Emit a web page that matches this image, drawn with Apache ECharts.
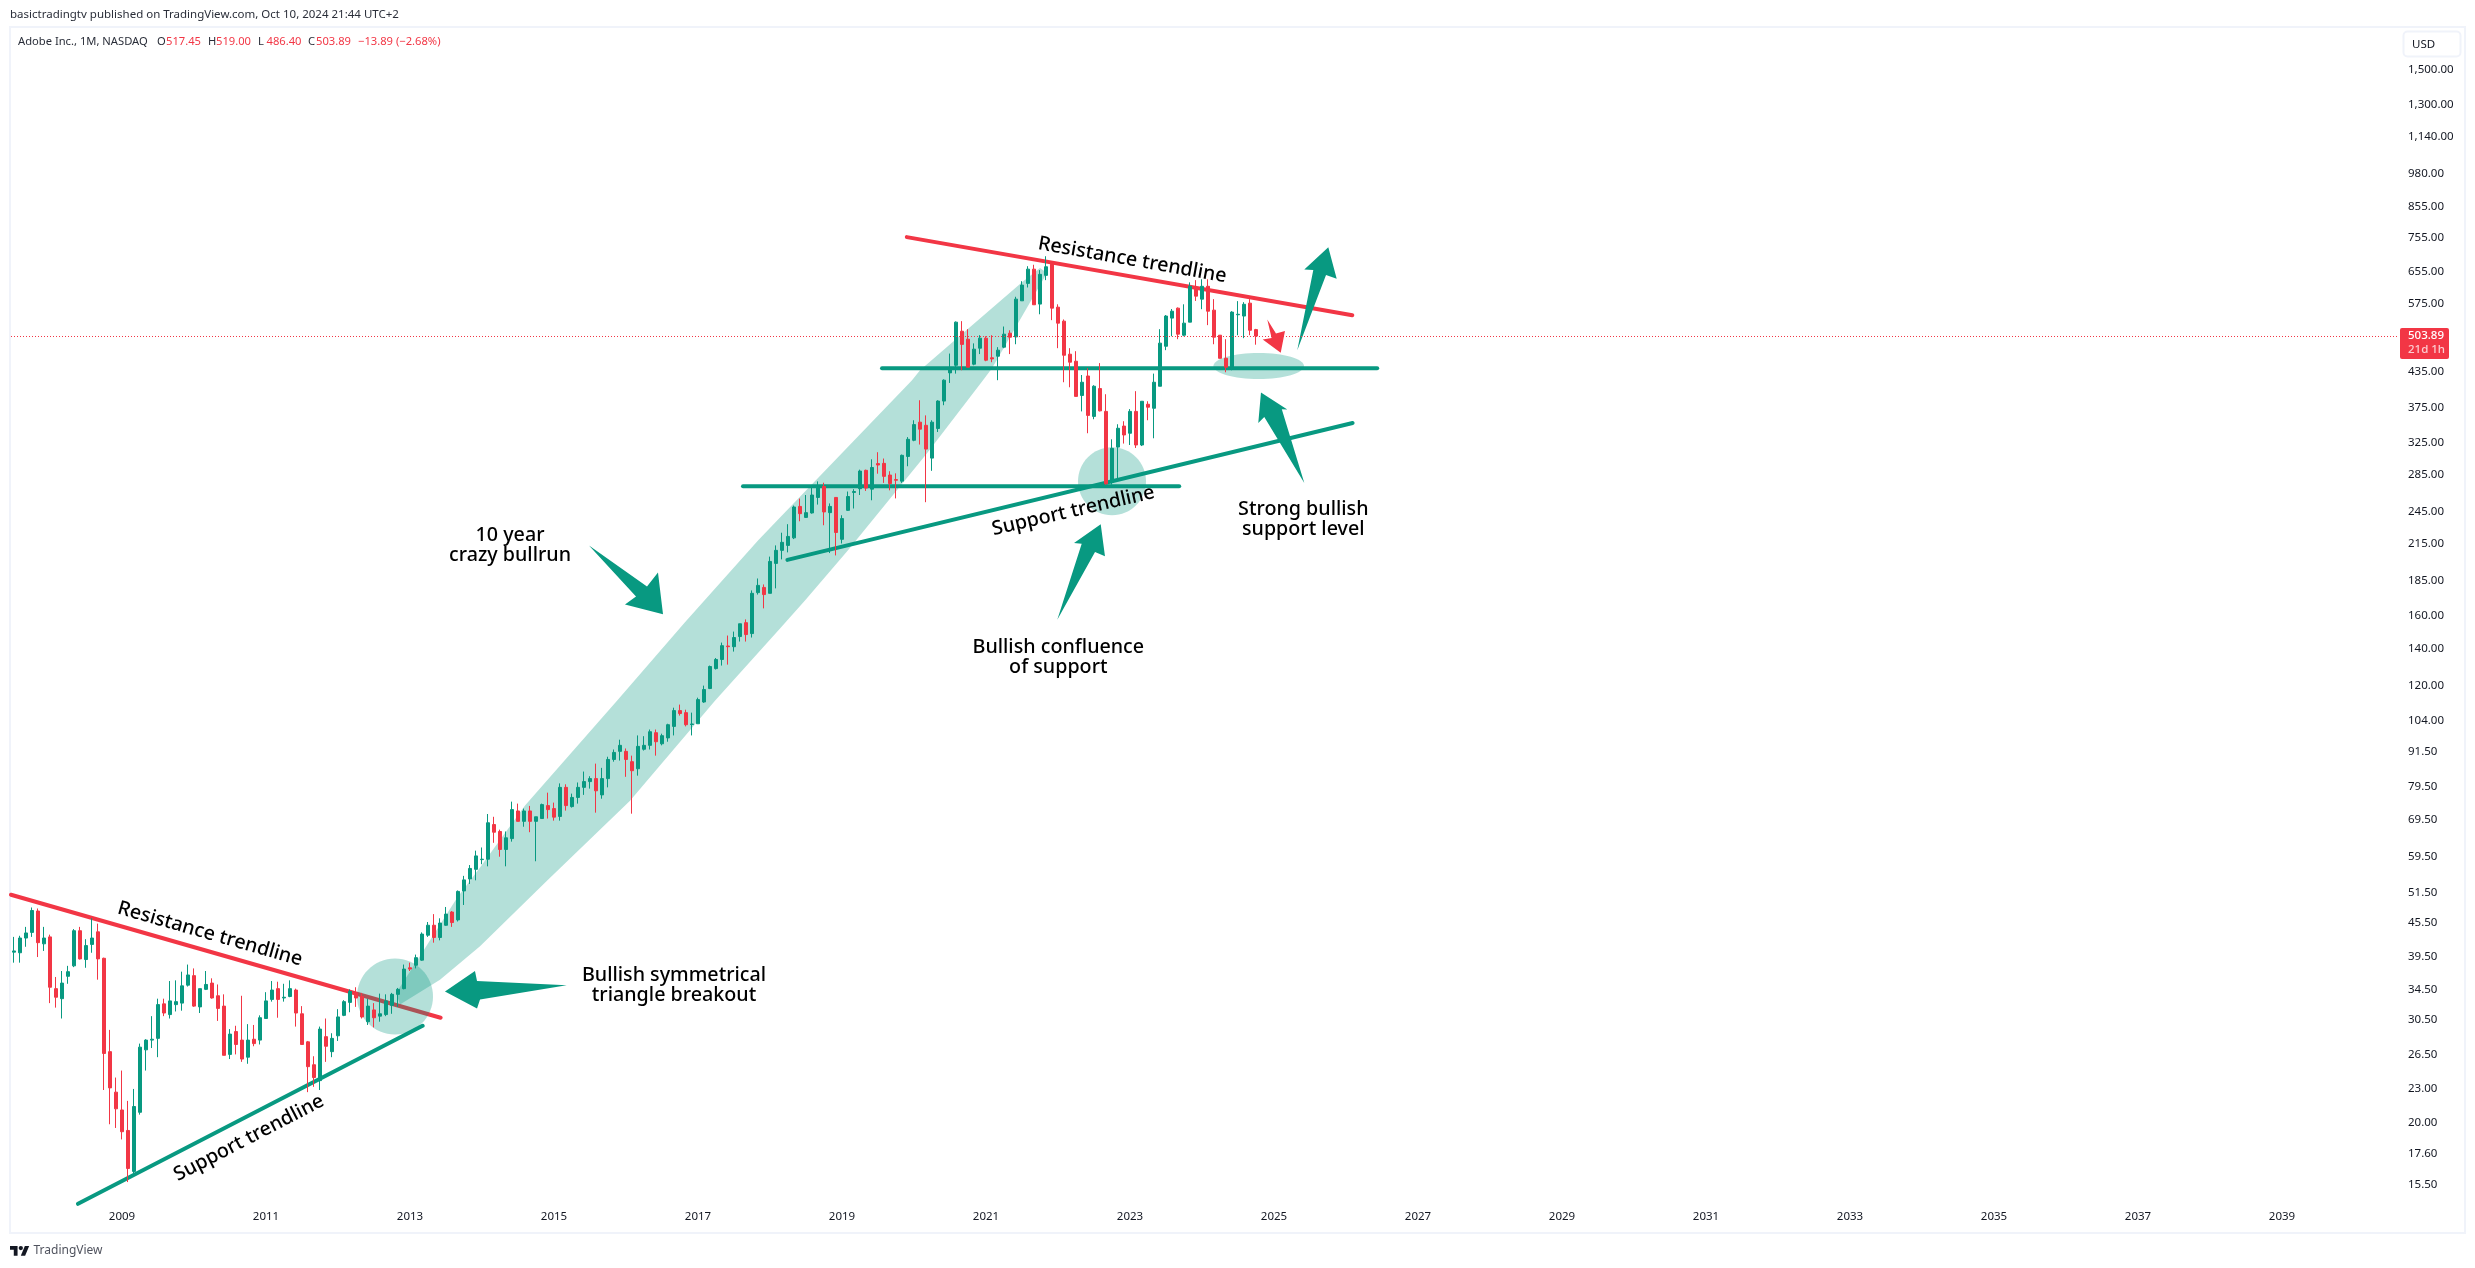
<!DOCTYPE html>
<html><head><meta charset="utf-8"><style>html,body{margin:0;padding:0;background:#fff}#c{width:2475px;height:1268px}</style>
<script src="https://cdn.jsdelivr.net/npm/echarts@6/dist/echarts.min.js"></script></head><body><div id="c"></div>
<script>
const opens=[40.3,40.2,42.7,43.7,47.7,41.7,42.9,34.7,33.3,36.5,38.1,44.0,39.1,41.6,43.8,39.3,26.8,22.7,21.1,19.4,
16.4,20.9,27.0,28.1,28.3,32.6,31.2,32.5,32.7,35.2,36.6,32.2,34.6,35.5,33.7,32.3,26.5,29.1,28.1,26.2,
28.2,28.1,30.7,33.2,34.7,33.4,33.6,34.5,31.3,27.9,25.4,23.8,28.5,26.8,28.6,31.1,32.8,34.1,33.6,30.3,
31.8,31.0,31.2,32.4,33.9,34.7,37.8,38.2,39.0,43.2,45.0,42.8,45.0,47.5,46.0,51.8,54.4,56.6,58.9,59.0,
68.0,66.1,61.4,64.2,71.9,68.9,71.9,68.9,69.7,73.5,72.6,70.3,79.2,73.2,76.0,79.2,81.1,82.1,76.8,82.1,
88.8,91.8,91.8,88.0,85.5,92.6,94.1,99.1,94.7,97.0,101.7,108.5,107.6,102.5,102.8,112.4,118.8,128.9,133.8,141.4,
141.0,147.0,155.6,148.8,176.0,179.8,175.5,198.4,209.3,213.6,220.3,250.6,239.6,244.0,260.0,272.0,244.3,260.0,219.0,246.6,
265.4,269.5,290.6,269.0,298.7,299.0,285.0,279.8,278.0,307.6,328.7,354.0,349.5,305.5,345.0,386.0,433.3,447.0,514.0,497.5,
449.0,479.5,499.6,461.0,464.0,481.5,509.9,502.2,582.3,625.4,663.0,574.5,646.3,676.8,567.3,535.7,467.8,454.5,395.0,427.8,
362.5,406.3,370.0,276.7,319.6,348.4,338.3,370.0,322.4,381.0,374.8,410.2,483.3,542.4,565.0,505.7,533.5,615.5,586.3,618.0,
560.4,505.7,460.0,443.5,549.9,547.0,576.7,517.45];
const highs=[42.9,43.1,44.7,48.4,48.2,44.7,43.3,36.4,37.3,38.1,44.3,44.7,42.5,46.3,45.3,39.4,29.3,24.1,24.8,21.9,
23.0,27.7,28.2,31.0,33.3,33.3,35.8,35.9,37.2,38.3,37.7,34.7,37.3,36.2,35.3,33.9,29.4,29.8,33.7,30.0,
29.9,31.1,34.2,35.8,35.7,35.4,35.9,34.7,32.3,28.0,26.3,29.7,30.7,28.9,31.9,33.1,34.6,34.9,34.1,33.3,
32.7,34.0,33.9,34.1,34.8,38.3,38.6,39.9,43.7,45.6,47.1,46.3,48.5,47.7,51.9,55.1,57.6,61.1,61.9,71.0,
70.2,66.6,66.1,74.7,74.1,72.6,73.4,70.2,74.1,77.5,74.4,80.5,80.2,77.2,80.8,84.5,82.9,87.3,85.8,89.8,
92.5,96.3,92.9,90.2,98.0,97.7,100.4,100.4,98.7,102.8,109.8,111.2,108.9,107.6,114.4,120.2,130.5,134.6,143.4,147.6,
150.0,154.9,157.7,177.6,186.5,182.0,204.0,213.6,225.0,233.0,251.5,258.8,262.6,271.2,277.7,276.2,253.7,260.0,241.7,266.4,
269.0,291.4,291.4,304.0,313.0,305.0,289.5,287.0,310.0,333.0,356.8,387.3,364.0,356.8,387.3,422.0,469.0,535.0,535.7,518.3,
489.0,505.7,503.6,505.7,481.5,524.0,516.0,592.0,631.0,671.0,675.0,660.4,699.0,682.0,574.0,539.4,479.5,473.6,429.5,441.7,
412.0,451.0,397.0,330.0,351.0,355.4,373.5,402.0,385.7,385.7,432.0,518.3,549.3,563.0,566.6,574.0,628.0,633.8,636.0,636.0,
586.3,505.7,497.5,558.0,581.5,579.0,586.3,519];
const lows=[38.6,38.6,41.2,42.9,39.5,40.5,32.7,32.1,30.7,35.4,37.9,39.1,37.8,40.2,36.0,22.9,19.9,19.6,18.7,15.7,
16.1,20.7,24.8,27.2,26.2,31.0,30.7,31.6,31.7,35.0,32.2,31.4,34.5,33.3,30.4,26.4,26.0,26.5,25.7,25.5,
27.4,27.6,30.7,32.9,30.8,32.9,33.5,29.7,27.6,22.7,23.2,22.9,25.7,26.2,28.0,31.0,31.5,32.2,30.7,29.9,
29.6,30.3,31.0,31.3,32.2,34.6,37.3,37.7,38.9,42.9,41.9,42.3,44.9,44.7,45.7,48.9,53.3,54.1,57.8,57.3,
63.1,59.6,57.3,63.4,68.9,67.4,65.9,58.5,69.7,69.7,69.1,69.1,72.0,72.9,74.1,76.8,78.8,71.4,75.6,79.2,
88.0,88.4,82.7,71.1,83.1,92.1,92.5,90.2,94.1,95.5,98.0,106.3,101.7,98.0,102.8,112.0,118.5,128.4,130.5,131.0,
138.2,144.0,144.0,146.4,174.6,165.0,175.5,179.1,201.7,207.6,219.2,235.8,239.0,243.3,252.5,232.0,207.0,205.0,215.3,246.0,
248.5,262.6,267.0,257.0,286.6,276.0,267.7,259.0,276.0,295.5,327.4,323.0,255.0,290.0,340.0,379.5,415.8,432.0,438.0,443.5,
447.0,468.0,454.5,452.7,420.5,479.5,468.0,487.3,582.3,615.0,572.9,551.0,633.8,537.9,479.5,417.0,408.5,393.5,370.0,338.3,
358.3,370.0,274.0,274.0,279.0,324.3,322.4,318.5,321.0,356.8,331.4,410.2,475.6,503.6,497.5,503.6,533.5,582.0,562.6,527.0,
487.3,460.0,434.4,438.0,505.7,499.6,505.7,486.4];
const closes=[40.5,42.7,43.6,47.8,41.9,42.7,34.9,33.5,35.5,37.2,44.0,39.2,41.4,42.7,39.2,26.6,23.1,21.2,19.3,16.6,
21.4,27.3,28.1,28.2,32.5,31.4,33.0,32.9,35.1,36.7,32.3,34.7,35.3,33.4,32.0,26.4,28.8,27.6,26.0,28.1,
27.7,30.8,33.0,34.5,33.2,33.5,34.7,31.4,27.6,25.2,24.1,29.4,27.4,28.3,30.9,32.9,34.3,33.4,30.9,32.3,
30.8,31.3,33.0,33.9,34.6,37.6,37.6,39.4,43.4,45.0,42.8,45.4,47.1,45.5,51.7,54.2,56.8,59.8,59.0,68.5,
65.9,61.4,64.4,72.3,68.9,71.9,68.9,70.2,73.8,72.3,70.1,79.2,73.5,76.0,79.2,81.1,82.1,78.1,82.1,88.8,
91.4,94.1,88.8,84.8,93.7,94.1,99.5,95.5,97.9,102.4,108.5,107.2,102.4,102.7,113.5,118.3,130.0,133.8,141.6,141.0,
146.4,154.9,148.2,175.5,181.3,174.6,200.0,209.3,216.3,221.6,250.0,243.3,244.3,262.6,272.0,245.0,250.6,225.2,238.4,261.0,
266.4,289.7,270.2,294.0,297.0,283.5,275.2,279.0,309.0,330.0,350.5,344.0,317.0,354.0,386.0,420.5,440.5,533.5,487.0,443.5,
477.6,499.6,456.4,458.8,475.6,507.8,501.6,586.3,621.0,663.0,572.9,649.0,669.5,565.0,531.3,465.8,452.7,393.5,417.0,364.0,
410.2,370.8,275.0,318.0,345.3,335.9,370.0,322.4,385.7,376.4,417.0,489.5,547.0,558.0,507.8,531.3,618.0,593.5,618.0,558.0,
501.6,460.0,443.5,555.9,551.0,574.0,516.0,503.89];

const startYear=2007, startMonth=7, monthCount=398;
const yearLabels=[2009,2011,2013,2015,2017,2019,2021,2023,2025,2027,2029,2031,2033,2035,2037,2039];
const priceTicks=[1500,1300,1140,980,855,755,655,575,435,375,325,285,245,215,185,160,140,120,104,91.5,79.5,69.5,59.5,51.5,45.5,39.5,34.5,30.5,26.5,23,20,17.6,15.5];
const lastPrice=503.89, countdown='21d 1h';
const legendValues={O:'517.45',H:'519.00',L:'486.40',C:'503.89',change:'\u221213.89 (\u22122.68%)'};

// drawings, all in [month index, price]
const resistanceLow=[[-0.5,51.0],[71.1,30.8]];
const supportLow=[[10.67,14.36],[68.1,29.8]];
const resistanceHigh=[[148.8,756],[223.05,549]];
const supportHigh=[[128.9,201.3],[223.1,352.8]];
const levelUpper=[[144.67,441.7],[227.2,441.7]];
const levelLower=[[121.5,272.1],[194.2,272.1]];
const bullrunBand=[[63.67,34.1],[67.17,38.9],[73.83,50.3],[77.67,57.0],[85.17,73.5],[100.5,113.0],[111.83,155.8],[124,218],[127.67,239.6],[149.67,420.5],[151,438.1],[168,628.6],[171,665.8],
[172.17,652.3],[163,441.7],[161.5,420.5],[152.17,311.7],[139,209.3],[131.83,170.4],[127.67,152],[116.83,113],[114,104.1],[102.67,75],[88.83,54],[77.67,41.3],[71,36.0],[64.33,32.5]];
const zones=[{c:[63.5,33.6],rx:38,ry:38},{c:[183,277.8],rx:34,ry:34},{c:[207.45,445.9],rx:45.3,ry:13}];
const greenArrows=[
[[71.83,34.3],[76.83,37.3],[77.17,35.8],[92.12,35.2],[77.67,33.2],[77.17,32.0]],
[[108.17,161],[107.33,191.2],[105.5,180.5],[95.83,213.6],[103.67,173.2],[101.83,167.6]],
[[181.12,232.9],[181.83,204.2],[180.17,207.8],[173.88,157.5],[177.95,215.1],[176.67,215.6]],
[[207.83,399.8],[212.22,372.8],[211.3,373.3],[215.05,275.9],[208.38,361.7],[207.38,352.9]],
[[219.05,725],[220.45,637.2],[218.67,647],[213.88,475.6],[216.55,660.4],[215.05,662.3]]];
const redArrow=[[208.88,539.4],[210.33,509],[211.83,514.7],[211.12,470.4],[208.12,496.9],[209.6,500]];
const notes=[
{t:'Resistance trendline',m:32.67,p:43.4,r:-15.9},
{t:'Support trendline',m:39.17,p:18.8,r:27.4},
{t:'Resistance trendline',m:186.38,p:688,r:-10},
{t:'Support trendline',m:176.55,p:245.9,r:13},
{t:'Bullish symmetrical\ntriangle breakout',m:110,p:35.2,r:0},
{t:'10 year\ncrazy bullrun',m:82.67,p:213.6,r:0},
{t:'Bullish confluence\nof support',m:174.05,p:135,r:0},
{t:'Strong bullish\nsupport level',m:214.88,p:237.2,r:0}];

const GREEN='#089981', RED='#F23645', BAND='rgba(8,153,129,0.3)', INK='#131722';
const FONT='"Noto Sans", sans-serif';
const categories=[];
for(let i=0;i<monthCount;i++){const t=startYear*12+startMonth-1+i;categories.push(Math.floor(t/12)+'-'+String(t%12+1).padStart(2,'0'));}
const candles=opens.map((o,i)=>[o,closes[i],lows[i],highs[i]]);
const trend=(d,color)=>({type:'line',xAxisIndex:1,yAxisIndex:0,data:d,symbol:'none',z:1,silent:true,
  lineStyle:{color:color,width:4,cap:'round'}});
const single=(renderItem,z)=>({type:'custom',xAxisIndex:1,yAxisIndex:0,z:z,silent:true,data:[[0,100]],renderItem:renderItem});
const poly=(api,pts,fill)=>({type:'polygon',shape:{points:pts.map(p=>api.coord(p))},style:{fill:fill}});

const chart=echarts.init(document.getElementById('c'),null,{width:2475,height:1268});
const txt=(x,y,t,fill,size,extra)=>({type:'text',x:x,y:y,silent:true,style:Object.assign({text:t,fill:fill,font:(size||12)+'px '+FONT,verticalAlign:'middle'},extra||{})});
const LS=0.54,LX=10,LY=1243.8;
const logoPts=a=>a.map(p=>[LX+p[0]*LS,LY+p[1]*LS]);
chart.setOption({
  animation:false,backgroundColor:'#fff',
  grid:{left:11,top:28,width:2388,height:1176,containLabel:false},
  xAxis:[{type:'category',data:categories,boundaryGap:true,axisLine:{show:false},axisTick:{show:false},splitLine:{show:false},
    axisLabel:{color:INK,fontFamily:FONT,fontSize:11.5,margin:7,hideOverlap:false,
      interval:(i,v)=>v.endsWith('-01')&&yearLabels.includes(+v.slice(0,4)),formatter:v=>v.slice(0,4)}},
    {type:'value',min:-0.5,max:397.5,show:false,splitLine:{show:false}}],
  yAxis:[{type:'log',min:14.35,max:1782,position:'right',axisLine:{show:false},axisTick:{show:false},splitLine:{show:false},minorTick:{show:false},minorSplitLine:{show:false},
    axisLabel:{customValues:priceTicks,color:INK,fontFamily:FONT,fontSize:11.5,margin:9,align:'left',
      formatter:v=>Number(v).toLocaleString('en-US',{minimumFractionDigits:2,maximumFractionDigits:2})}}],
  series:[
    trend(resistanceLow,RED),trend(supportLow,GREEN),trend(resistanceHigh,RED),trend(supportHigh,GREEN),trend(levelUpper,GREEN),trend(levelLower,GREEN),
    single((p,api)=>poly(api,bullrunBand,BAND),2),
    {type:'custom',xAxisIndex:1,yAxisIndex:0,z:2,silent:true,data:zones.map((_,i)=>[i,100]),renderItem:(p,api)=>{const z=zones[p.dataIndex],c=api.coord(z.c);
      return {type:'ellipse',shape:{cx:c[0],cy:c[1],rx:z.rx,ry:z.ry},style:{fill:BAND}};}},
    {type:'candlestick',name:'ADBE',xAxisIndex:0,yAxisIndex:0,data:candles,barWidth:4,z:3,silent:true,
      itemStyle:{color:GREEN,color0:RED,borderColor:GREEN,borderColor0:RED,borderWidth:1},
      markLine:{silent:true,symbol:'none',animation:false,label:{show:false},lineStyle:{color:RED,width:1,type:[1,2]},data:[{yAxis:lastPrice}]}},
    {type:'custom',xAxisIndex:1,yAxisIndex:0,z:4,silent:true,data:greenArrows.map((_,i)=>[i,100]),renderItem:(p,api)=>poly(api,greenArrows[p.dataIndex],GREEN)},
    single((p,api)=>poly(api,redArrow,RED),4),
    {type:'custom',xAxisIndex:1,yAxisIndex:0,z:5,silent:true,data:notes.map((_,i)=>[i,100]),renderItem:(p,api)=>{const n=notes[p.dataIndex],c=api.coord([n.m,n.p]);
      return {type:'text',x:c[0],y:c[1],rotation:n.r*Math.PI/180,style:{text:n.t,fill:'#000',font:'500 19.7px '+FONT,align:'center',verticalAlign:'middle',lineHeight:20}};}},
    {type:'custom',xAxisIndex:1,yAxisIndex:0,z:6,silent:true,clip:false,data:[[0,100]],renderItem:(p,api)=>{const c=api.coord([397.5,lastPrice]);
      return {type:'group',children:[
        {type:'rect',shape:{x:c[0]+1,y:c[1]-8,width:49,height:31,r:2},style:{fill:RED}},
        {type:'text',x:c[0]+9,y:c[1],style:{text:lastPrice.toFixed(2),fill:'#fff',font:'500 11.5px '+FONT,verticalAlign:'middle'}},
        {type:'text',x:c[0]+9,y:c[1]+14,style:{text:countdown,fill:'rgba(255,255,255,0.75)',font:'500 11.5px '+FONT,verticalAlign:'middle'}}]};}}
  ],
  graphic:{elements:[
    {type:'rect',silent:true,z:-1,shape:{x:10,y:27,width:2455,height:1206},style:{fill:'none',stroke:'#F0F3FA',lineWidth:2}},
    {type:'rect',silent:true,shape:{x:2403.5,y:31.5,width:57,height:25,r:4},style:{fill:'#fff',stroke:'#F0F3FA',lineWidth:2}},
    txt(2412,44.5,'USD',INK,11.5),
    txt(10,15,'basictradingtv published on TradingView.com, Oct 10, 2024 21:44 UTC+2','#2A2E39',11.5),
    txt(18,42,'Adobe Inc., 1M, NASDAQ','#2A2E39',11.2),
    txt(157,42,'O','#2A2E39',11.2),txt(166,42,legendValues.O,RED,11.2),
    txt(208,42,'H','#2A2E39',11.2),txt(216,42,legendValues.H,RED,11.2),
    txt(258,42,'L','#2A2E39',11.2),txt(266.5,42,legendValues.L,RED,11.2),
    txt(308,42,'C','#2A2E39',11.2),txt(316,42,legendValues.C,RED,11.2),
    txt(358,42,legendValues.change,RED,11.2),
    {type:'polygon',silent:true,shape:{points:logoPts([[14,22],[7,22],[7,11],[0,11],[0,4],[14,4]])},style:{fill:INK}},
    {type:'polygon',silent:true,shape:{points:logoPts([[28,22],[20,22],[27.5,4],[35.5,4]])},style:{fill:INK}},
    {type:'circle',silent:true,shape:{cx:LX+20*LS,cy:LY+8*LS,r:4*LS},style:{fill:INK}},
    txt(33.5,1250.5,'TradingView','#50535E',12)
  ]}
});
</script></body></html>
